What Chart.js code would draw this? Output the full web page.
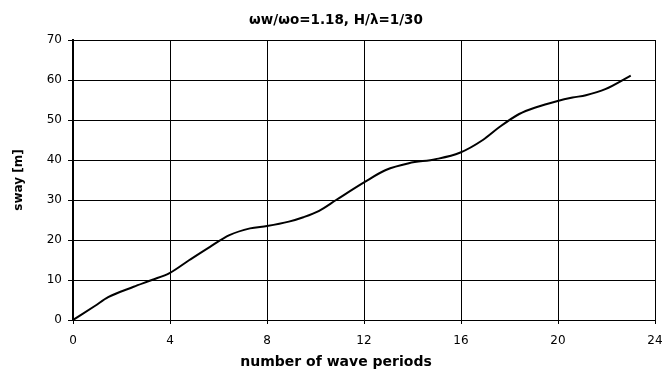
<!DOCTYPE html>
<html>
<head>
<meta charset="utf-8">
<script src="https://cdn.jsdelivr.net/npm/chart.js@4"></script>
<style>
  html, body { margin: 0; padding: 0; background: #fff; }
  #wrap { width: 663px; height: 374px; }
</style>
</head>
<body>
<div id="wrap"><canvas id="swayChart" width="663" height="374"></canvas></div>
<script>
const periods = [0, 0.9, 1.45, 2.5, 3.25, 4.0, 4.8, 5.65, 6.45, 7.3, 8.0, 8.9, 9.5, 10.15, 10.85, 12.0, 12.9, 13.85, 14.95, 15.95, 16.9, 17.6, 18.4, 19.1, 19.95, 20.6, 21.15, 21.95, 23.0];
const sway = [0, 3.5, 5.7, 8.3, 10, 11.8, 15, 18.3, 21.2, 22.9, 23.5, 24.6, 25.7, 27.3, 30, 34.4, 37.5, 39.2, 40.2, 41.8, 45, 48.3, 51.5, 53.2, 54.7, 55.6, 56.2, 57.7, 61.1];
const xTicks = [0, 4, 8, 12, 16, 20, 24];
const yTicks = [0, 10, 20, 30, 40, 50, 60, 70];

const tickFont = { family: 'DejaVu Sans', size: 12 };

new Chart(document.getElementById('swayChart'), {
  type: 'line',
  data: {
    datasets: [{
      label: 'sway',
      data: periods.map((p, i) => ({ x: p, y: sway[i] })),
      borderColor: '#000',
      borderWidth: 2,
      pointRadius: 0,
      cubicInterpolationMode: 'monotone',
      fill: false
    }]
  },
  options: {
    responsive: false,
    animation: false,
    layout: { padding: { left: 17, right: 8, top: 0, bottom: 0 } },
    plugins: {
      legend: { display: false },
      tooltip: { enabled: false },
      title: {
        display: true,
        text: 'ωw/ωo=1.18, H/λ=1/30',
        color: '#000',
        font: { family: 'DejaVu Sans', size: 13.5, weight: 'bold' },
        padding: { top: 12, bottom: 11.8 }
      },
      subtitle: {
        display: true,
        position: 'bottom',
        text: 'number of wave periods',
        color: '#000',
        font: { family: 'DejaVu Sans', size: 14, weight: 'bold' },
        padding: { top: 2, bottom: 3.6 }
      }
    },
    scales: {
      x: {
        type: 'linear',
        min: xTicks[0],
        max: xTicks[xTicks.length - 1],
        afterBuildTicks: s => { s.ticks = xTicks.map(v => ({ value: v })); },
        afterFit: s => { s.height = 31.6; s.paddingLeft = 0; s.paddingRight = 0; },
        ticks: { color: '#000', font: tickFont, padding: 10, maxRotation: 0 },
        grid: { color: '#000', lineWidth: 1, tickLength: 4, tickColor: '#000' },
        border: { color: '#000', width: 1 }
      },
      y: {
        min: yTicks[0],
        max: yTicks[yTicks.length - 1],
        afterBuildTicks: s => { s.ticks = yTicks.map(v => ({ value: v })); },
        afterFit: s => { s.width = 56; },
        ticks: { color: '#000', font: tickFont, padding: 6 },
        grid: { color: '#000', lineWidth: 1, tickLength: 5, tickColor: '#000' },
        border: { color: '#000', width: 2 },
        title: {
          display: true,
          text: 'sway [m]',
          color: '#000',
          font: { family: 'DejaVu Sans', size: 12, weight: 'bold' },
          padding: { top: -5, bottom: 0 }
        }
      }
    }
  }
});
</script>
</body>
</html>
